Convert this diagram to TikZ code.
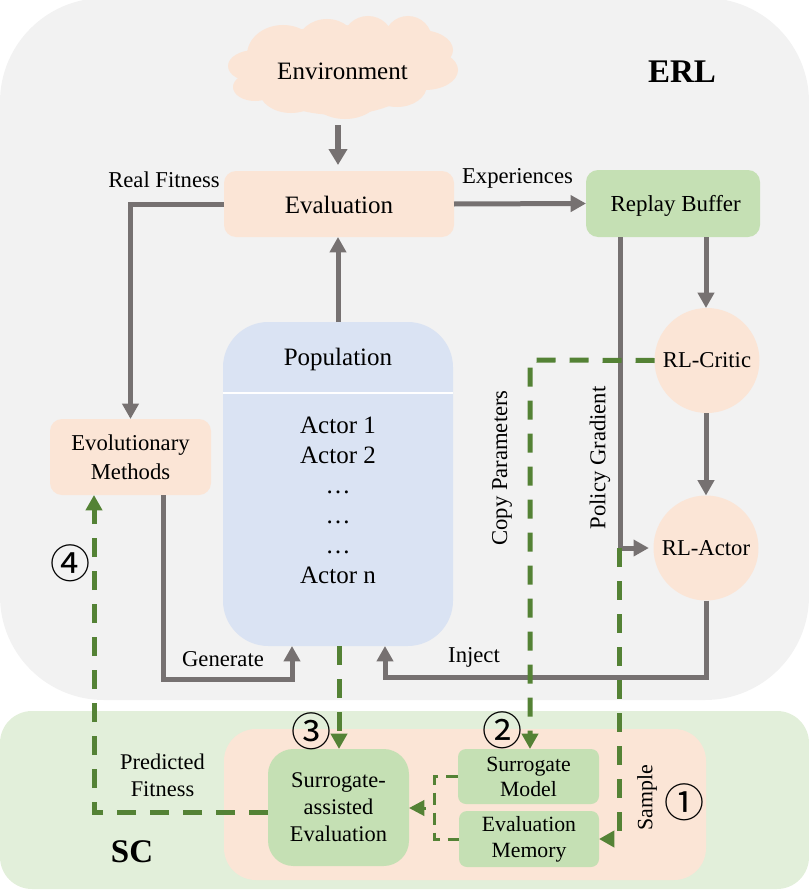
\documentclass[tikz,border=0pt]{standalone}
\usepackage{fontspec}
\setmainfont{Liberation Serif}
\newfontfamily\circfont{Noto Sans CJK SC}
\usetikzlibrary{arrows.meta,calc}
\definecolor{bgGray}{HTML}{F2F2F2}
\definecolor{bgGreen}{HTML}{E2EFDA}
\definecolor{peach}{HTML}{FBE5D6}
\definecolor{leaf}{HTML}{C5E0B4}
\definecolor{popBlue}{HTML}{DAE3F3}
\definecolor{lineGray}{HTML}{767171}
\definecolor{lineGreen}{HTML}{548235}
\newcommand{\fsA}{\fontsize{18.75pt}{22.5pt}\selectfont}
\newcommand{\fsB}{\fontsize{17pt}{20.25pt}\selectfont}
\newcommand{\fsC}{\fontsize{16.8pt}{20.25pt}\selectfont}
\tikzset{
  wh/.style 2 args={minimum width=#1*0.75pt,minimum height=#2*0.75pt,inner sep=0pt,outer sep=0pt},
  softbox/.style={rectangle,fill=peach,rounded corners=9pt,align=center},
  leafbox/.style={rectangle,fill=leaf,rounded corners=9pt,align=center},
  ball/.style={circle,fill=peach,inner sep=0pt,outer sep=0pt,minimum size=105*0.75pt,font=\fsB},
  lab/.style={font=\fsB,align=center,inner sep=0pt},
  num/.style={font=\fontsize{30pt}{30pt}\circfont,inner sep=0pt},
  gray/.style={draw=lineGray,line width=3.75pt,-{Triangle[length=11.5pt,width=12pt]}},
  greenline/.style={draw=lineGreen,line width=3.75pt,dash pattern=on 14.25pt off 10.5pt,-{Triangle[length=11.5pt,width=12pt]}},
  thin green/.style={draw=lineGreen,line width=2.25pt,dash pattern=on 9pt off 6pt},
  puff/.style={fill=peach,draw=none}
}
\begin{document}
\begin{tikzpicture}[x=0.75pt,y=-0.75pt]
\useasboundingbox (0,0) rectangle (809,892);
% backgrounds
\fill[bgGray,rounded corners=78pt] (0,-2) rectangle (809,700);
\fill[bgGreen,rounded corners=24pt] (0,711) rectangle (809,889);
\fill[peach,rounded corners=24pt] (224,729) rectangle (706,880);
% cloud
\foreach \cx/\cy/\rx/\ry in {338/70/85/45,255/66/27/16,255/87/22/14,283/55/36/30,327/45/30/26,368/40/25/24,408/40/24/24,420/50/33/20,425/70/33/20,397/85/30/22,345/95/35/24,291/90/32/23}
  \fill[puff] (\cx,\cy) ellipse [x radius=\rx*0.75pt,y radius=\ry*0.75pt];
\node[wh={130}{108},font=\fsA] (env) at (342.5,71) {Environment};
% boxes
\node[softbox,wh={230}{66},font=\fsA,text height=13.9pt,text depth=0pt] (eval) at (339,204) {Evaluation};
\node[leafbox,wh={174}{67},font=\fontsize{17.2pt}{20.25pt}\selectfont,text height=11.8pt,text depth=0pt] (replay) at (673,203.5) {\hspace{4pt}Replay Buffer};
\node[ball] (critic) at (707,360.5) {RL-Critic};
\node[ball] (actor) at (706,548) {RL-Actor};
\node[rectangle,fill=popBlue,rounded corners=34pt,wh={230}{324}] (pop) at (338,484) {};
\draw[white,line width=1.5pt] (pop.west |- 0,393) -- (pop.east |- 0,393);
\node[font=\fsA,inner sep=0pt] (popt) at (338,359.5) {Population};
\node[font=\fsA,align=center,inner sep=0pt] (actors) at (338,500) {Actor 1\\Actor 2\\…\\…\\…\\Actor n};
\node[softbox,wh={161}{76},font=\fontsize{17pt}{21.75pt}\selectfont] (evo) at (130.5,457) {Evolutionary\\Methods};
\node[leafbox,rounded corners=6pt,wh={141}{55},font=\fontsize{16.3pt}{18.75pt}\selectfont] (sm) at (528.5,776.5) {Surrogate\\Model};
\node[leafbox,rounded corners=6pt,wh={140}{56},font=\fontsize{16.3pt}{19.5pt}\selectfont] (em) at (529,839) {Evaluation\\Memory};
\node[leafbox,rounded corners=19pt,wh={141}{117},font=\fsC] (sae) at (338.5,807.5) {Surrogate-\\assisted\\Evaluation};
% named junctions
\coordinate (jpg) at (620,548);
\coordinate (jgen) at (292,679);
\coordinate (jinj) at (385,677);
\coordinate (jcopy) at (530,360);
\coordinate (jsamp) at (619,839);
\coordinate (jpf) at (94,812);
\coordinate (jmem) at (434,808);
% gray connectors
\draw[gray,line width=4.5pt,-{Triangle[length=12pt,width=13.5pt]},shorten >=4.5pt] (env.south -| 338,0) -- (eval.north -| 338,0);
\draw[gray] (eval.east) -- (replay.west);
\draw[gray] (eval.west) -| (evo.north);
\draw[gray] (pop.north) -- (eval.south -| pop.north);
\draw[gray] (replay.south -| actor) -- (critic.north -| actor);
\draw[gray] (critic.south -| actor) -- (actor.north);
\draw[gray,shorten >=3.5pt] (replay.south -| jpg) -- (jpg) -- (actor.west |- jpg);
\draw[gray] (actor.south) -- (actor.south |- jinj) -- (jinj) -- (pop.south -| jinj);
\draw[gray] (evo.south -| 163,0) -- (163,679) -- (jgen) -- (pop.south -| jgen);
% green connectors
\draw[greenline] (critic.west) -- (jcopy) -- (sm.north -| jcopy);
\draw[greenline] (619,548) -- (jsamp) -- (em.east |- jsamp);
\draw[greenline] (pop.south -| 339,0) -- (sae.north -| 339,0);
\draw[greenline] (sae.west |- jpf) -- (jpf) -- (evo.south -| jpf);
\draw[thin green] (sm.west) -- (sm.west -| jmem) -- (em.west -| jmem) -- (em.west);
\draw[draw=lineGreen,line width=2.25pt,-{Triangle[length=11.5pt,width=11.5pt]},shorten <=6pt] (jmem) -- (sae.east |- jmem);
% labels
\node[font=\fontsize{24.75pt}{30pt}\selectfont\bfseries,inner sep=0pt] (erl) at (682,72) {ERL};
\node[font=\fontsize{24.75pt}{30pt}\selectfont\bfseries,inner sep=0pt] (sc) at (132,852) {SC};
\node[lab] (lreal) at (164,179.5) {Real Fitness};
\node[lab] (lexp) at (517.5,178.5) {Experiences};
\node[lab] (lgen) at (223,659.5) {Generate};
\node[lab] (linj) at (474,657) {Inject};
\node[lab,rotate=90] (lcopy) at (502,468) {Copy Parameters};
\node[lab,rotate=90] (lpol) at (600,458) {Policy Gradient};
\node[lab,font=\fontsize{16.4pt}{20.25pt}\selectfont,rotate=90] (lsamp) at (647,798) {Sample};
\node[lab,font=\fsC] (lpf) at (162.5,775.5) {Predicted\\Fitness};
\node[num] (n1) at (684,802) {①};
\node[num] (n2) at (502,730.5) {②};
\node[num] (n3) at (311,731.5) {③};
\node[num] (n4) at (70,563) {④};
\end{tikzpicture}
\end{document}
